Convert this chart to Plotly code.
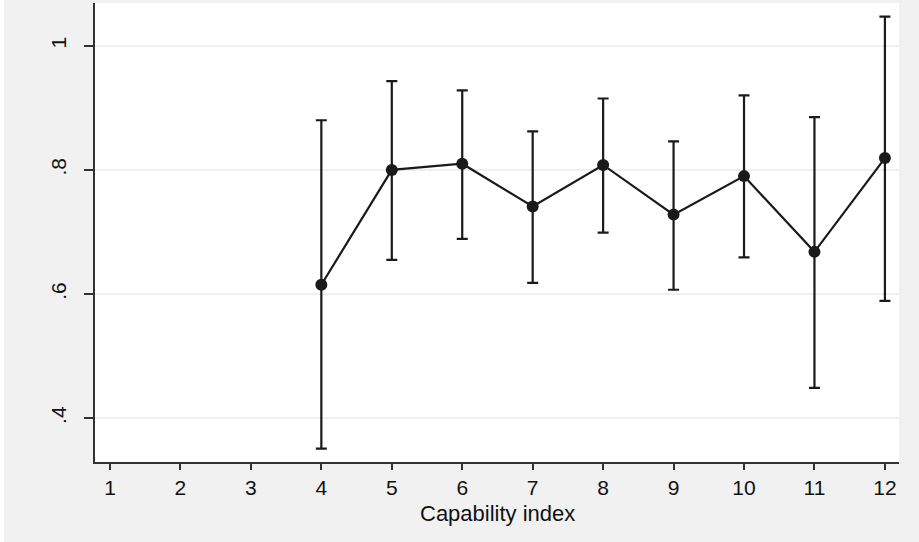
import plotly.graph_objects as go

capability = [4, 5, 6, 7, 8, 9, 10, 11, 12]
estimate = [0.615, 0.800, 0.810, 0.741, 0.808, 0.728, 0.790, 0.668, 0.819]
upper = [0.880, 0.943, 0.928, 0.862, 0.915, 0.846, 0.920, 0.885, 1.047]
lower = [0.351, 0.655, 0.689, 0.618, 0.699, 0.607, 0.659, 0.449, 0.589]

x_ticks = list(range(1, 13))
y_ticks = [0.4, 0.6, 0.8, 1.0]
y_labels = [".4", ".6", ".8", "1"]
x_title = "Capability index"

err_plus = [u - e for u, e in zip(upper, estimate)]
err_minus = [e - l for e, l in zip(estimate, lower)]

W, H = 919, 542
L, R, T, B = 95, 20, 3, 80
ph = H - T - B
pw = W - L - R

fig = go.Figure()
fig.add_trace(go.Scatter(
    x=capability, y=estimate,
    mode="lines+markers",
    line=dict(color="#1a1a1a", width=2.2),
    marker=dict(color="#1a1a1a", size=12),
    error_y=dict(type="data", symmetric=False, array=err_plus, arrayminus=err_minus,
                 color="#1a1a1a", thickness=2.2, width=5.5),
    showlegend=False,
    cliponaxis=False,
))

fig.add_shape(type="rect", xref="paper", yref="paper",
              x0=-L / pw, x1=(4 - L) / pw, y0=-B / ph, y1=1 + T / ph,
              fillcolor="white", line=dict(width=0), layer="below")

font = "Liberation Sans, Arial, sans-serif"
fig.add_annotation(text=x_title, xref="paper", yref="paper",
                   x=0.5, y=-51 / ph, xanchor="center", yanchor="middle",
                   showarrow=False, font=dict(family=font, size=22, color="#111111"))

fig.update_layout(
    width=W, height=H,
    margin=dict(l=L, r=R, t=T, b=B),
    paper_bgcolor="#f1f1f1",
    plot_bgcolor="white",
    font=dict(family=font, size=21, color="#111111"),
    xaxis=dict(
        range=[0.787, 12.2],
        tickmode="array", tickvals=x_ticks, ticktext=[str(v) for v in x_ticks],
        ticks="outside", ticklen=6, tickwidth=1.5, tickcolor="#333333",
        showline=True, linecolor="#333333", linewidth=1.5,
        showgrid=False, zeroline=False,
        tickfont=dict(size=21),
        ticklabelstandoff=0,
    ),
    yaxis=dict(
        range=[0.3296, 1.0688],
        tickmode="array", tickvals=y_ticks, ticktext=y_labels,
        tickangle=-90,
        ticks="outside", ticklen=9, tickwidth=1.5, tickcolor="#333333",
        showline=True, linecolor="#333333", linewidth=1.5,
        showgrid=True, gridcolor="#efefef", gridwidth=2,
        zeroline=False,
        tickfont=dict(size=21),
        ticklabelstandoff=10,
    ),
)

fig.write_html("out.html")
